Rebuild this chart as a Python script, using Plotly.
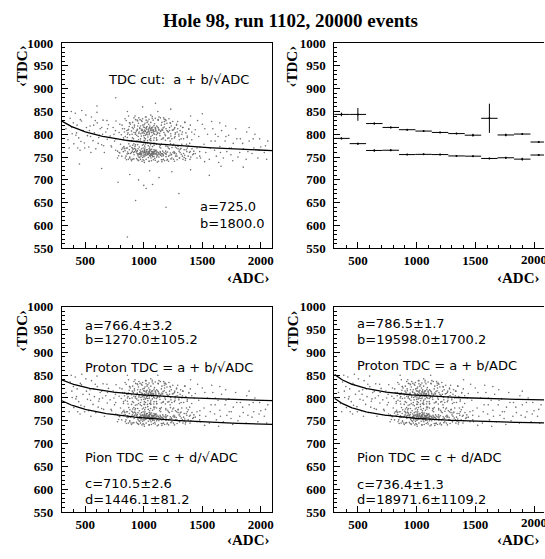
import plotly.graph_objects as go

W, H = 545, 559

# ---------------- data ----------------
title_text = "Hole 98, run 1102, 20000 events"

# fit / cut parameters shown on the panels
cut_a, cut_b = 725.0, 1800.0
bl_a, bl_b, bl_c, bl_d = 766.4, 1270.0, 710.5, 1446.1
br_a, br_b, br_c, br_d = 786.5, 19598.0, 736.4, 18971.6

# profile histogram (top right)
prof_adc = [360, 500, 640, 780, 920, 1060, 1200, 1340, 1480, 1620, 1760, 1900, 2040]
prof_halfwidth = [70] * 13
prof_proton = [843.5, 843.5, 823.5, 815, 810, 807, 804, 801.5, 798, 835, 798.5, 800.5, 783]
prof_proton_err = [4, 14, 2, 2, 1.5, 1.5, 1.5, 1.5, 3, 32, 3, 1.5, 1.5]
prof_pion = [791, 779.5, 764.5, 765, 755.5, 756, 755.5, 752.5, 752, 747, 748.5, 745.5, 754.5]
prof_pion_err = [2, 2, 2.5, 2, 1.5, 1.5, 1.5, 1.5, 1.5, 1.5, 2, 3, 1.5]

# scatter events (ADC, TDC)
proton_pts = [
    (1012,806),(968,812),(1085,801),(1130,809),(940,798),(1050,815),(1003,821),(1172,804),(895,807),(1061,795),
    (1110,818),(987,803),(1025,811),(1190,812),(920,816),(1078,808),(1045,799),(955,824),(1138,797),(1008,809),
    (870,811),(1099,813),(1032,804),(979,796),(1150,820),(1060,826),(1020,800),(943,809),(1205,806),(1088,792),
    (998,816),(1120,803),(1070,810),(930,803),(1040,807),(1165,814),(985,828),(1015,790),(1095,806),(960,805),
    (1245,809),(880,799),(1052,818),(1128,811),(1003,802),(1077,816),(1018,813),(948,818),(1180,800),(1035,794),
    (1092,823),(910,812),(1066,804),(990,809),(1143,806),(1028,817),(975,801),(1108,799),(1055,812),(1220,815),
    (1000,797),(1082,807),(936,807),(1161,809),(1047,802),(1010,824),(1117,816),(965,814),(1073,798),(1038,810),
    (1270,803),(855,808),(1001,806),(1102,811),(1058,791),(992,820),(1135,802),(1024,803),(952,795),(1087,819),
    (1198,808),(1044,813),(916,804),(1068,815),(1113,805),(983,811),(1030,799),(1155,811),(1006,815),(1093,800),
    (945,811),(1063,808),(1124,814),(1016,807),(972,818),(1080,804),(1230,801),(1042,822),(902,815),(1104,808),
    (1050,805),(1290,812),(1185,797),(958,802),(1022,815),(1147,808),(1069,813),(995,805),(1035,829),(1116,801),
    (865,803),(1084,810),(1013,798),(1175,816),(1056,809),(928,800),(1098,815),(1039,806),(981,808),(1210,805),
    (842,795),(1235,818),(905,826),(1262,792),(1310,808),(818,812),(1190,830),(955,788),(1335,815),(880,825),
    (1150,789),(1280,822),(930,832),(1205,791),(860,793),(1360,803),(990,834),(1110,787),(1248,828),(895,786),
    (1175,833),(970,785),(1300,796),(835,805),(1225,825),(1045,833),(1142,836),(913,790),(1385,812),(1085,787),
    (1032,786),(1268,800),(948,829),(1198,824),(875,817),(1340,790),(1015,838),(1122,832),(1253,810),(928,784),
    (1072,839),(1315,818),(808,799),(1166,792),(1002,786),(1232,796),(958,836),(1290,828),(1098,835),(885,822),
    (1410,805),(1060,786),(1185,787),(943,831),(1372,796),(1130,838),(826,788),(1215,834),(1020,831),(1325,800),
    (972,790),(1265,815),(1080,831),(850,830),(1155,826),(1398,820),(1005,792),(1240,790),(920,820),(1350,826),
    (1108,792),(865,809),(1285,805),(1050,788),(1178,822),(900,800),(1305,788),(1028,826),(1220,808),(980,830),
]
pion_pts = [
    (1018,758),(975,762),(1079,756),(1141,760),(931,765),(1057,752),(996,761),(1166,755),(902,763),(1049,759),
    (1117,753),(981,768),(1033,757),(1183,758),(913,760),(1071,762),(1052,764),(962,756),(1129,750),(1015,755),
    (877,766),(1106,759),(1039,749),(971,760),(1157,757),(1067,767),(1027,762),(950,753),(1212,752),(1081,758),
    (1005,764),(1113,762),(1063,754),(923,769),(1047,760),(1172,760),(978,755),(1022,766),(1088,751),(967,759),
    (1238,755),(887,758),(1059,756),(1121,755),(1010,770),(1084,760),(1011,753),(941,762),(1187,763),(1042,758),
    (1099,765),(917,755),(1073,761),(983,757),(1150,758),(1021,763),(968,765),(1101,757),(1062,748),(1227,759),
    (1007,760),(1075,753),(943,758),(1154,752),(1054,767),(1003,756),(1124,760),(958,750),(1080,757),(1031,755),
    (1277,757),(862,761),(994,753),(1095,762),(1065,762),(985,761),(1142,754),(1017,760),(945,764),(1094,747),
    (1191,756),(1037,759),(909,767),(1075,758),(1106,765),(976,752),(1037,756),(1162,763),(999,759),(1086,761),
    (952,757),(1056,754),(1131,757),(1009,762),(965,758),(1087,766),(1223,754),(1049,753),(895,760),(1111,759),
    (1043,761),(1283,752),(1192,759),(951,768),(1029,759),(1140,756),(1076,751),(988,763),(1042,762),(1109,755),
    (858,757),(1091,763),(1006,764),(1168,753),(1063,757),(921,762),(1091,757),(1046,768),(974,756),(1203,761),
    (1320,756),(1065,758),(1002,751),(1140,762),(905,769),(1048,763),(1260,758),(975,759),(1110,750),(1030,766),
    (1350,754),(840,764),(1075,760),(1190,751),(1020,754),(950,756),(1125,759),(1005,767),(1085,761),(1160,757),
    (1380,752),(820,770),(1055,765),(1235,756),(990,749),(1100,764),(935,761),(1070,755),(1045,757),(1265,760),
    (812,752),(1302,763),(868,745),(1345,749),(905,776),(1270,772),(838,768),(1390,760),(955,743),(1232,746),
    (880,750),(1318,769),(925,774),(1285,744),(795,759),(1418,755),(988,776),(1205,773),(852,744),(1362,766),
    (1142,776),(945,744),(1255,778),(825,762),(1335,745),(1015,779),(1178,742),(898,771),(1402,750),(1065,742),
    (1110,778),(972,745),(1295,775),(842,748),(1372,770),(1038,775),(1198,743),(915,779),(1440,758),(1082,744),
    (760,765),(1330,752),(1002,742),(1248,776),(882,774),(1455,748),(1058,777),(1163,744),(938,747),(1310,767),
    (1125,741),(860,770),(1272,752),(998,778),(1188,777),(785,753),(1380,774),(1045,741),(1218,768),(915,746),
    (1095,780),(1340,758),(962,772),(1262,741),(830,773),(1428,763),(1020,745),(1150,779),(895,742),(1305,748),
    (1075,773),(948,777),(1240,748),(870,758),(1395,745),(1135,772),(985,741),(1280,770),(812,767),(1355,743),
    (1168,745),(930,767),(1325,778),(1008,774),(1212,741),(848,752),(1478,752),(1088,776),(965,749),(1292,774),
    (1050,772),(905,745),(1228,779),(1412,768),(872,779),(1155,740),(1368,762),(994,770),(1258,762),(775,748),
]
halo_pts = [
    (335,812),(352,788),(370,835),(388,801),(402,779),(415,846),(430,820),(444,792),(455,765),(468,829),
    (480,808),(492,781),(505,842),(518,797),(530,772),(541,818),(553,838),(566,786),(578,803),(590,768),
    (602,825),(615,793),(627,812),(640,777),(652,831),(663,760),(675,805),(688,789),(698,821),(362,770),
    (398,825),(425,803),(463,784),(510,815),(548,760),(585,830),(620,798),(657,775),(690,812),(545,795),
    (380,850),(470,852),(600,848),(435,770),(640,815),
    (712,796),(725,772),(738,815),(750,785),(763,829),(776,763),(789,804),(801,778),(814,820),(827,792),
    (840,834),(852,770),(865,787),(878,825),(891,745),(903,792),(916,836),(929,777),(942,785),(955,742),
    (968,832),(981,783),(994,744),(1007,786),(1020,838),(1033,781),(1046,741),(1059,787),(1072,835),(1085,780),
    (1098,743),(1111,788),(1124,831),(1137,777),(1150,744),(1163,790),(1176,828),(1189,774),(1202,745),(1215,792),
    (1228,824),(1241,771),(1254,745),(1267,795),(1280,820),(1293,768),(1306,748),(1319,790),(1332,815),(1345,766),
    (1358,747),(1371,793),(1384,811),(1397,762),(745,800),(790,760),(835,812),(880,748),(925,840),(1005,738),
    (1060,842),(1115,739),(1170,836),(1225,785),(1300,800),(1365,778),(760,790),(860,800),(1250,760),(1330,805),
    (1410,788),(1425,757),(1440,810),(1455,770),(1470,795),(1485,748),(1500,822),(1515,778),(1530,760),(1545,800),
    (1560,745),(1575,785),(1590,812),(1605,765),(1620,752),(1635,795),(1650,773),(1665,808),(1680,748),(1695,785),
    (1710,762),(1725,798),(1745,755),(1765,780),(1785,812),(1805,750),(1825,790),(1850,768),(1875,745),(1900,785),
    (1925,758),(1950,800),(1975,748),(2000,772),(2030,760),(2060,785),(1460,830),(1580,828),(1700,818),(1820,760),
    (1940,770),(2050,745),(1520,740),(1640,738),(1760,742),(1880,805),(1990,790),(1480,772),(1610,785),(1730,770),
    (385,815),(420,798),(458,832),(495,770),(535,808),(572,820),(610,780),(648,800),(685,830),(720,775),
    (758,808),(795,822),(832,770),(870,840),(1145,770),(1185,832),(1210,770),(1262,812),(1310,760),(1352,826),
    (1392,780),(1432,800),(1478,762),(1522,812),(1568,770),(1612,800),(1655,760),(1702,795),(1748,770),(1795,790),
    (1845,780),(1890,762),(1935,790),(1985,765),(2040,775),(860,850),(1120,850),(1400,840),(1650,825),(1900,815),
]
outlier_pts = [
    (1000,688),(1020,681),(1075,690),(955,700),(1130,705),(880,712),(1560,710),(1240,718),(640,725),(1400,722),
    (1850,728),(860,575),(1190,640),(930,655),(1300,670),(780,695),(1660,730),(450,735),(1050,720),(990,860),
    (1100,868),(760,880),(1230,855),(600,862),(1500,845),
]

x_ticks = [500, 1000, 1500, 2000]
x_ticklabels_left = ["500", "1000", "1500", "2000"]
x_ticklabels_right = ["500", "1000", "1500", ""]
y_ticks = [550, 600, 650, 700, 750, 800, 850, 900, 950, 1000]

# ---------------- helpers ----------------
def pxx(x):
    return x / W

def pxy(y):
    return 1 - y / H

core = proton_pts + pion_pts + halo_pts
core_adc = [p[0] for p in core]
core_tdc = [p[1] for p in core]
all_adc = core_adc + [p[0] for p in outlier_pts]
all_tdc = core_tdc + [p[1] for p in outlier_pts]

curve_adc = list(range(300, 2101, 10))

def sqrt_curve(a, b):
    return [a + b / (x ** 0.5) for x in curve_adc]

def inv_curve(a, b):
    return [a + b / x for x in curve_adc]

fig = go.Figure()

pt_marker = dict(size=1.6, color="#707070")
line_style = dict(color="black", width=1.3)

# TL
fig.add_trace(go.Scatter(x=all_adc, y=all_tdc, mode="markers", marker=pt_marker, xaxis="x", yaxis="y", hoverinfo="skip"))
fig.add_trace(go.Scatter(x=curve_adc, y=sqrt_curve(cut_a, cut_b), mode="lines", line=line_style, xaxis="x", yaxis="y"))

# TR profiles
for mean, err in ((prof_proton, prof_proton_err), (prof_pion, prof_pion_err)):
    fig.add_trace(go.Scatter(
        x=prof_adc, y=mean, mode="markers",
        marker=dict(size=2, color="black"),
        error_x=dict(type="data", array=prof_halfwidth, color="black", thickness=1, width=0),
        error_y=dict(type="data", array=err, color="black", thickness=1, width=0),
        xaxis="x2", yaxis="y2", cliponaxis=True))

# BL
fig.add_trace(go.Scatter(x=core_adc, y=core_tdc, mode="markers", marker=pt_marker, xaxis="x3", yaxis="y3", hoverinfo="skip"))
fig.add_trace(go.Scatter(x=curve_adc, y=sqrt_curve(bl_a, bl_b), mode="lines", line=line_style, xaxis="x3", yaxis="y3"))
fig.add_trace(go.Scatter(x=curve_adc, y=sqrt_curve(bl_c, bl_d), mode="lines", line=line_style, xaxis="x3", yaxis="y3"))

# BR
fig.add_trace(go.Scatter(x=core_adc, y=core_tdc, mode="markers", marker=pt_marker, xaxis="x4", yaxis="y4", hoverinfo="skip"))
fig.add_trace(go.Scatter(x=curve_adc, y=inv_curve(br_a, br_b), mode="lines", line=line_style, xaxis="x4", yaxis="y4"))
fig.add_trace(go.Scatter(x=curve_adc, y=inv_curve(br_c, br_d), mode="lines", line=line_style, xaxis="x4", yaxis="y4"))

tickfont = dict(family="Liberation Serif", size=13, color="black", weight=700)

def xax(dom, anchor, rng, labels):
    return dict(domain=dom, anchor=anchor, range=rng, showline=True, mirror=True,
                linecolor="black", linewidth=1, ticks="inside", ticklen=6, tickwidth=1,
                tickcolor="black", tickvals=x_ticks, ticktext=labels, showgrid=False, zeroline=False,
                tickfont=tickfont, ticklabelstandoff=0,
                minor=dict(ticks="inside", ticklen=3, dtick=100, tick0=0, tickcolor="black", showgrid=False))

def yax(dom, anchor, mirror):
    return dict(domain=dom, anchor=anchor, range=[550, 1000], showline=True, mirror=mirror,
                linecolor="black", linewidth=1, ticks="inside", ticklen=6, tickwidth=1,
                tickcolor="black", tickvals=y_ticks, showgrid=False, zeroline=False,
                tickfont=tickfont, ticklabelstandoff=5,
                minor=dict(ticks="inside", ticklen=3, dtick=10, tick0=0, tickcolor="black", showgrid=False))

left_dom = [pxx(62), pxx(273)]
right_dom = [pxx(335), 1.0]
top_dom = [pxy(248), pxy(37)]
bot_dom = [pxy(519), pxy(308)]

fig.update_layout(
    width=W, height=H, autosize=False,
    margin=dict(l=0, r=0, t=0, b=0),
    paper_bgcolor="white", plot_bgcolor="white",
    showlegend=False,
    xaxis=xax(left_dom, "y", [300, 2100], x_ticklabels_left),
    yaxis=yax(top_dom, "x", True),
    xaxis2=xax(right_dom, "y2", [300, 2085], x_ticklabels_right),
    yaxis2=yax(top_dom, "x2", False),
    xaxis3=xax(left_dom, "y3", [300, 2100], x_ticklabels_left),
    yaxis3=yax(bot_dom, "x3", True),
    xaxis4=xax(right_dom, "y4", [300, 2085], x_ticklabels_right),
    yaxis4=yax(bot_dom, "x4", False),
)

ann = []
serif_b = dict(family="Liberation Serif", color="black", weight="bold")
sans = dict(family="DejaVu Sans", size=13, color="black")

ann.append(dict(text=title_text, x=pxx(291), y=pxy(14), xref="paper", yref="paper",
                xanchor="center", yanchor="middle", showarrow=False, font=dict(serif_b, size=19)))

# the 2000 label of the right-hand panels runs past the page edge, as in the original
for xa, ya in (("x2", 248), ("x4", 519)):
    ann.append(dict(text="2000", x=x_ticks[-1], xref=xa, y=pxy(ya + 11), yref="paper",
                    xanchor="center", yanchor="middle", showarrow=False, font=tickfont))

for (xr, yc) in ((272, 278), (543, 278), (273, 548), (543, 548)):
    ann.append(dict(text="‹ADC›", x=pxx(xr), y=pxy(yc), xref="paper", yref="paper",
                    xanchor="right", yanchor="middle", showarrow=False, font=dict(serif_b, size=15)))
for (xc, yt) in ((22, 37), (293, 37), (22, 309), (293, 309)):
    ann.append(dict(text="‹TDC›", x=pxx(xc), y=pxy(yt), xref="paper", yref="paper", textangle=-90,
                    xanchor="center", yanchor="top", showarrow=False, font=dict(serif_b, size=15)))

def txt(s, xl, yc):
    ann.append(dict(text=s, x=pxx(xl), y=pxy(yc), xref="paper", yref="paper",
                    xanchor="left", yanchor="middle", showarrow=False, font=sans))

txt("TDC cut:  a + b/√ADC", 106, 75)
txt("a=%.1f" % cut_a, 198, 205)
txt("b=%.1f" % cut_b, 198, 222)

txt("a=766.4±3.2", 83, 327)
txt("b=1270.0±105.2", 83, 342)
txt("Proton TDC = a + b/√ADC", 83, 370)
txt("Pion TDC = c + d/√ADC", 83, 463)
txt("c=710.5±2.6", 83, 490)
txt("d=1446.1±81.2", 83, 506)

txt("a=786.5±1.7", 356, 325)
txt("b=19598.0±1700.2", 356, 342)
txt("Proton TDC = a + b/ADC", 356, 368)
txt("Pion TDC = c + d/ADC", 356, 463)
txt("c=736.4±1.3", 356, 491)
txt("d=18971.6±1109.2", 356, 506)

fig.update_layout(annotations=ann)

fig.write_html("out.html")
